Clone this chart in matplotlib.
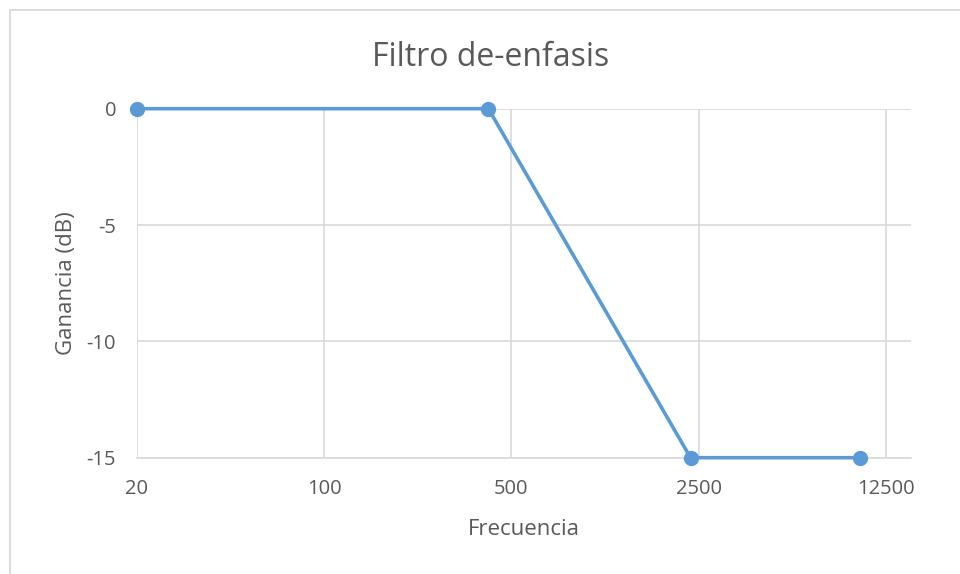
import matplotlib.pyplot as plt
from matplotlib.ticker import FixedLocator, FixedFormatter, NullLocator
from matplotlib.patches import Rectangle

# Filter response points
freq = [20, 410, 2330, 10000]
gain_db = [0, 0, -15, -15]

x_ticks = [20, 100, 500, 2500, 12500]
y_ticks = [0, -5, -10, -15]

line_color = '#5b9bd5'
grid_color = '#d9d9d9'
text_color = '#595959'

plt.rcParams['font.family'] = ['Open Sans', 'DejaVu Sans']

fig = plt.figure(figsize=(9.6, 5.74), dpi=100)
ax = fig.add_axes([137 / 960, 1 - 457.7 / 574, (911 - 137) / 960, (457.7 - 108.7) / 574])

# Chart border
fig.patches.append(Rectangle((10 / 960, -0.1), 1.2, 1 - 10 / 574 + 0.1,
                             transform=fig.transFigure, fill=False,
                             edgecolor=grid_color, linewidth=1.3))

ax.plot(freq, gain_db, color=line_color, linewidth=2.6, marker='o',
        markersize=10, zorder=3, clip_on=False)

ax.set_xscale('log', base=5)
ax.set_xlim(20, 15500)
ax.set_ylim(-15, 0)

ax.xaxis.set_major_locator(FixedLocator(x_ticks))
ax.xaxis.set_major_formatter(FixedFormatter([str(t) for t in x_ticks]))
ax.xaxis.set_minor_locator(NullLocator())
ax.set_yticks(y_ticks)
ax.set_yticklabels([str(t) for t in y_ticks])

ax.grid(True, color=grid_color, linewidth=1.2)
ax.set_axisbelow(True)
for side in ['top', 'right', 'left']:
    ax.spines[side].set_visible(False)
ax.spines['bottom'].set_color(grid_color)
ax.spines['bottom'].set_linewidth(1.2)

ax.tick_params(axis='both', length=0, labelsize=14.5, colors=text_color)
ax.tick_params(axis='x', pad=15)
ax.tick_params(axis='y', pad=15)

# title is centred on the whole chart, not on the plot area
ax.set_title('Filtro de-enfasis', fontsize=23, color=text_color, pad=31, x=0.457)
ax.set_xlabel('Frecuencia', fontsize=16, color=text_color, labelpad=15)
ax.set_ylabel('Ganancia (dB)', fontsize=16, color=text_color, labelpad=7)

fig.savefig('out.png', dpi=100)
